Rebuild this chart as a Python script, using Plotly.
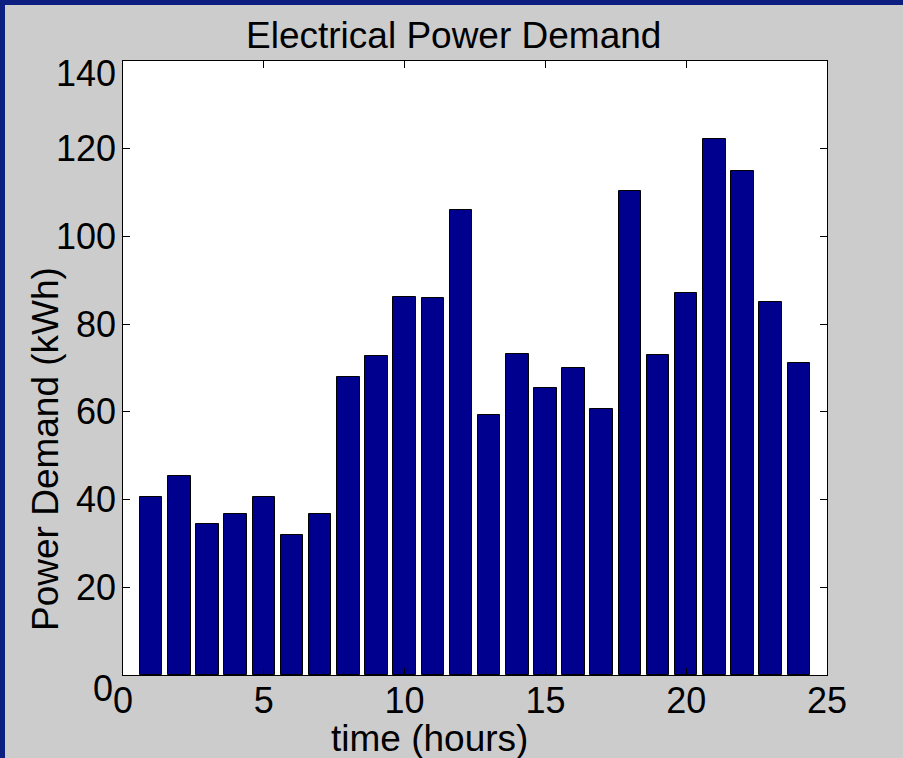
import plotly.graph_objects as go

# Hourly electrical power demand (kWh) for hours 1..24
hours = list(range(1, 25))
demand = [40.7, 45.4, 34.4, 36.6, 40.7, 32.0, 36.6, 67.9,
          72.7, 86.1, 85.9, 106.1, 59.2, 73.3, 65.5, 69.9,
          60.7, 110.3, 73.0, 87.0, 122.2, 115.0, 85.1, 71.2]

x_ticks = [0, 5, 10, 15, 20, 25]
y_ticks = [0, 20, 40, 60, 80, 100, 120, 140]
y_tick_labels = [str(v) for v in y_ticks]

title_text = "Electrical Power Demand"
x_title = "time (hours)"
y_title = "Power Demand (kWh)"

W, H = 903, 758
L, R, T, B = 123, 76, 61, 83
PW, PH = W - L - R, H - T - B

FONT = "Liberation Sans, Arial, Helvetica, sans-serif"
FS_TICK = 36
FS_TITLE = 37
BAR_COLOR = "#00008f"
FRAME_BLUE = "#0c1e80"
BG_GRAY = "#cccccc"


def px_x(px):
    return (px - L) / PW


def px_y(py):
    return (H - B - py) / PH


fig = go.Figure()
fig.add_trace(go.Bar(
    x=hours, y=demand, width=0.8,
    marker=dict(color=BAR_COLOR, line=dict(color="black", width=1)),
    showlegend=False, hoverinfo="x+y",
))

shapes = [
    # blue window frame along the top and left edges
    dict(type="rect", xref="paper", yref="paper",
         x0=px_x(-10), x1=px_x(W + 10), y0=px_y(5), y1=px_y(-10),
         fillcolor=FRAME_BLUE, line=dict(width=0), layer="below"),
    dict(type="rect", xref="paper", yref="paper",
         x0=px_x(-10), x1=px_x(5), y0=px_y(H + 10), y1=px_y(-10),
         fillcolor=FRAME_BLUE, line=dict(width=0), layer="below"),
]

annotations = []
# y tick labels; the end labels sit a little lower, as in MATLAB's layout
for v, lab in zip(y_ticks, y_tick_labels):
    shift, xs = 0, -5
    if v == y_ticks[0]:
        shift, xs = -13, -8
    elif v == y_ticks[-1]:
        shift = -12
    annotations.append(dict(
        x=0, xref="paper", y=v, yref="y", text=lab, showarrow=False,
        xanchor="right", yanchor="middle", xshift=xs, yshift=shift,
        font=dict(family=FONT, size=FS_TICK, color="black"),
    ))

annotations.append(dict(
    x=px_x(453), xref="paper", y=px_y(36), yref="paper", text=title_text,
    showarrow=False, xanchor="center", yanchor="middle",
    font=dict(family=FONT, size=FS_TITLE, color="black"),
))
annotations.append(dict(
    x=px_x(429), xref="paper", y=px_y(738), yref="paper", text=x_title,
    showarrow=False, xanchor="center", yanchor="middle",
    font=dict(family=FONT, size=FS_TITLE, color="black"),
))
annotations.append(dict(
    x=px_x(45), xref="paper", y=px_y(449), yref="paper", text=y_title,
    showarrow=False, xanchor="center", yanchor="middle", textangle=-90,
    font=dict(family=FONT, size=FS_TITLE, color="black"),
))

fig.update_layout(
    width=W, height=H,
    margin=dict(l=L, r=R, t=T, b=B, pad=0),
    paper_bgcolor=BG_GRAY, plot_bgcolor="white",
    bargap=0,
    shapes=shapes, annotations=annotations,
    font=dict(family=FONT, size=FS_TICK, color="black"),
    xaxis=dict(
        range=[0, 25], tickvals=x_ticks, ticktext=[str(v) for v in x_ticks],
        ticks="inside", ticklen=7, tickwidth=1, tickcolor="black",
        showline=True, linecolor="black", linewidth=1, mirror="allticks",
        showgrid=False, zeroline=False, ticklabelstandoff=-6,
        tickfont=dict(family=FONT, size=FS_TICK, color="black"),
    ),
    yaxis=dict(
        range=[0, 140], tickvals=y_ticks, showticklabels=False,
        ticks="inside", ticklen=7, tickwidth=1, tickcolor="black",
        showline=True, linecolor="black", linewidth=1, mirror="allticks",
        showgrid=False, zeroline=False,
    ),
)

fig.write_html("out.html")
